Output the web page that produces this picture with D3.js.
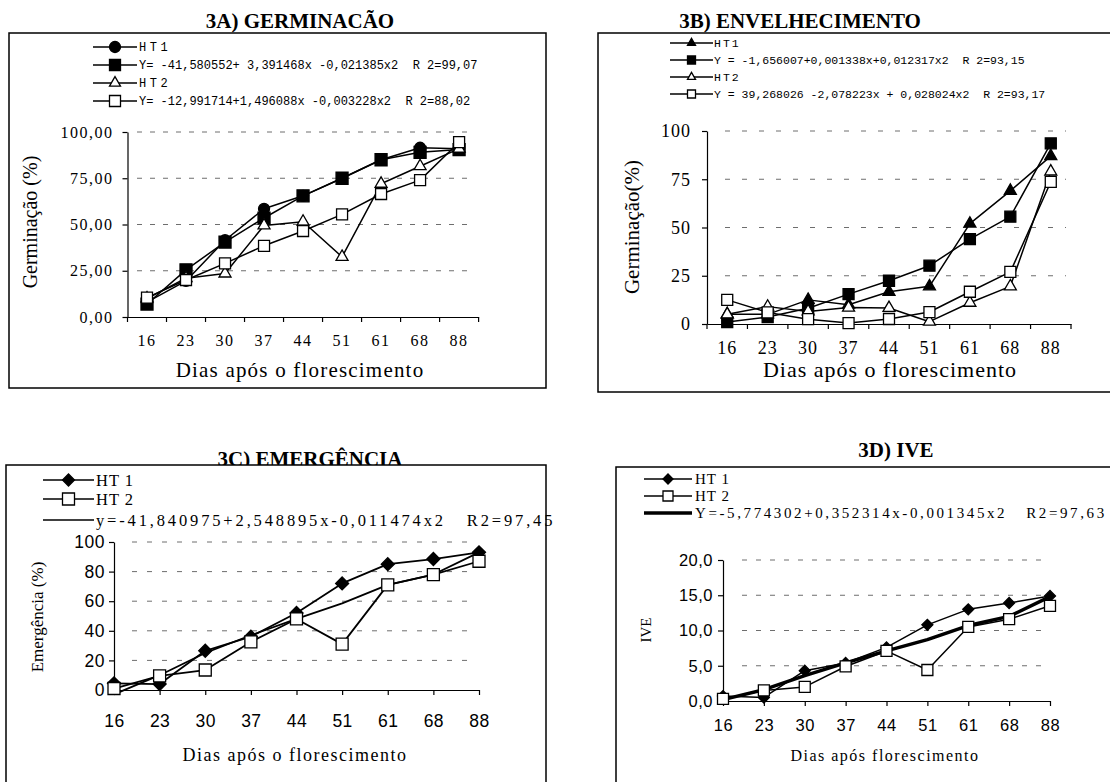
<!DOCTYPE html>
<html lang="pt">
<head>
<meta charset="UTF-8">
<title>Germinação, envelhecimento, emergência e IVE</title>
<script src="https://cdn.jsdelivr.net/npm/d3@7"></script>
<style>
    body { margin: 0; background: #fff; }
    svg text { fill: #000; white-space: pre; }
</style>
</head>
<body>
<script>
// dias após o florescimento (categorias do eixo x)
const dias = ["16", "23", "30", "37", "44", "51", "61", "68", "88"];

// 3A) Germinação
const germHT1 = [8, 19.5, 41.5, 58.5, 65.5, 75, 85, 91.5, 91];
const germHT1Ajuste = [7, 25.5, 40.5, 53.5, 65.5, 75, 85, 89, 90.5];
const germHT2 = [10, 21, 23.5, 49.5, 51.5, 32.5, 72, 81.5, 91];
const germHT2Ajuste = [10.5, 20, 29, 38.5, 46.5, 55.5, 66.5, 74, 94.5];
const germTicks = [0, 25, 50, 75, 100];
const germLegenda = ["HT1", "Y= -41,580552+ 3,391468x -0,021385x2  R 2=99,07",
                     "HT2", "Y= -12,991714+1,496088x -0,003228x2  R 2=88,02"];

// 3B) Envelhecimento
const envHT1 = [5, 5, 12.5, 10, 16.7, 19.5, 52, 69, 87];
const envHT1Ajuste = [1, 3.6, 8.2, 15.5, 22.4, 30.2, 44, 55.6, 93.6];
const envHT2 = [5, 9, 6.5, 8.5, 8.3, 1.2, 11, 19.5, 79];
const envHT2Ajuste = [12.5, 6, 2.5, 0.5, 2.6, 6.2, 16.7, 27, 73.6];
const envTicks = [0, 25, 50, 75, 100];
const envLegenda = ["HT1", "Y = -1,656007+0,001338x+0,012317x2  R 2=93,15",
                    "HT2", "Y = 39,268026 -2,078223x + 0,028024x2  R 2=93,17"];

// 3C) Emergência
const emergHT1 = [4.5, 4, 26.5, 36, 52, 72, 85, 88.5, 93];
const emergHT2 = [1, 9.5, 13.5, 32.5, 48, 31, 71, 78, 87];
const emergAjuste = [-3, 10, 25, 37, 48, 58.5, 71, 78, 93];
const emergTicks = [0, 20, 40, 60, 80, 100];
const emergLegenda = ["HT 1", "HT 2", "y=-41,840975+2,548895x-0,011474x2   R2=97,45"];

// 3D) IVE
const iveHT1 = [0.7, 0.5, 4.3, 5.4, 7.6, 10.8, 13, 13.9, 14.9];
const iveHT2 = [0.3, 1.5, 2, 4.9, 7.1, 4.4, 10.5, 11.6, 13.5];
const iveAjuste = [0.2, 1.6, 3.6, 5.4, 7.1, 8.7, 10.7, 12, 14.8];
const iveTicks = [0, 5, 10, 15, 20];
const iveLegenda = ["HT 1", "HT 2", "Y=-5,774302+0,352314x-0,001345x2   R2=97,63"];

const FONTS = {
    serif: "'Liberation Serif', 'Times New Roman', serif",
    sans: "'Liberation Sans', Arial, sans-serif",
    mono: "'Liberation Mono', 'Courier New', monospace"
};

const ptBR = d3.formatLocale({ decimal: ",", thousands: ".", grouping: [3], currency: ["R$", ""] });

const svg = d3.select("body").append("svg")
    .attr("width", 1110)
    .attr("height", 782);

// desenha um marcador (w = largura em px)
function marker(sel, type, w, fill) {
    if (!type) return sel;
    let sym = d3.symbolSquare, area = w * w, rot = 0;
    if (type === "circle") { sym = d3.symbolCircle; area = Math.PI * w * w / 4; }
    if (type === "triangle") { sym = d3.symbolTriangle; area = w * w * Math.sqrt(3) / 4; }
    if (type === "diamond") { area = w * w / 2; rot = 45; }
    return sel.append("path")
        .attr("d", d3.symbol().type(sym).size(area)())
        .attr("transform", rot ? `rotate(${rot})` : null)
        .attr("fill", fill)
        .attr("stroke", "#000")
        .attr("stroke-width", 1.3);
}

function drawPanel(p) {
    const g = svg.append("g");

    g.append("text")
        .attr("font-family", FONTS.serif)
        .attr("x", p.titleX).attr("y", p.titleY)
        .attr("text-anchor", "middle")
        .attr("font-size", 21).attr("font-weight", "bold")
        .text(p.title);

    g.append("rect")
        .attr("x", p.frame[0]).attr("y", p.frame[1])
        .attr("width", p.frame[2]).attr("height", p.frame[3])
        .attr("fill", "#fff").attr("stroke", "#000").attr("stroke-width", 1.5);

    const x = p.point
        ? d3.scalePoint().domain(dias).range([p.x0, p.x1])
        : d3.scaleBand().domain(dias).range([p.x0, p.x1]);
    const off = p.point ? 0 : x.bandwidth() / 2;
    const y = d3.scaleLinear().domain([p.yTicks[0], p.yTicks[p.yTicks.length - 1]]).range([p.y0, p.y1]);

    // grade tracejada
    g.append("g").selectAll("line")
        .data(p.yTicks.slice(1))
        .join("line")
        .attr("x1", p.gridX[0]).attr("x2", p.gridX[1])
        .attr("y1", d => y(d)).attr("y2", d => y(d))
        .attr("stroke", "#6e6e6e").attr("stroke-width", 1)
        .attr("stroke-dasharray", p.dash);

    // eixo y
    const ay = g.append("g")
        .attr("transform", `translate(${p.x0},0)`)
        .call(d3.axisLeft(y).tickValues(p.yTicks).tickSize(5).tickSizeOuter(0).tickPadding(p.yPad)
            .tickFormat(p.fmt));
    ay.attr("font-family", FONTS[p.tickFont]).attr("font-size", p.yTickSize);
    ay.select(".domain").attr("stroke", "#000").attr("stroke-width", 1.2);
    ay.selectAll(".tick line").attr("stroke", "#000").attr("stroke-width", 1.2);
    ay.selectAll("text").attr("letter-spacing", p.tickSpacing);

    // eixo x
    const ax = g.append("g")
        .attr("transform", `translate(0,${p.y0})`)
        .call(d3.axisBottom(x).tickSize(p.point ? 5 : 0).tickSizeOuter(0).tickPadding(p.xPad));
    ax.attr("font-family", FONTS[p.tickFont]).attr("font-size", p.xTickSize);
    ax.select(".domain").attr("stroke", "#000").attr("stroke-width", 1.2);
    ax.selectAll(".tick line").attr("stroke", "#000").attr("stroke-width", 1.2);
    ax.selectAll("text").attr("letter-spacing", p.tickSpacing);
    if (!p.point) {
        ax.selectAll("line.div")
            .data(dias.map(d => x(d)).concat([p.x1]))
            .join("line")
            .attr("class", "div")
            .attr("x1", d => d).attr("x2", d => d)
            .attr("y1", 0).attr("y2", 5)
            .attr("stroke", "#000").attr("stroke-width", 1.2);
    }

    // títulos dos eixos
    g.append("text")
        .attr("font-family", FONTS.serif)
        .attr("transform", `translate(${p.yTitle[0]},${p.yTitle[1]}) rotate(-90)`)
        .attr("text-anchor", "middle")
        .attr("dy", "0.35em")
        .attr("font-size", p.yTitle[2])
        .text(p.yLabel);
    g.append("text")
        .attr("font-family", FONTS.serif)
        .attr("x", p.xTitle[0]).attr("y", p.xTitle[1])
        .attr("text-anchor", "middle")
        .attr("font-size", p.xTitle[2])
        .attr("letter-spacing", p.xTitle[3])
        .text(p.xLabel);

    // séries
    const line = d3.line().x((d, i) => x(dias[i]) + off).y(d => y(d));
    p.series.forEach(s => {
        g.append("path")
            .datum(s.values)
            .attr("d", line)
            .attr("fill", "none")
            .attr("stroke", "#000")
            .attr("stroke-width", s.lw)
            .attr("stroke-linejoin", "round");
        if (s.marker) {
            g.append("g").selectAll("g")
                .data(s.values)
                .join("g")
                .attr("transform", (d, i) => `translate(${x(dias[i]) + off},${y(d)})`)
                .each(function () { marker(d3.select(this), s.marker, s.w, s.fill); });
        }
    });

    // legenda
    const L = p.legend;
    p.series.forEach((s, i) => {
        const row = s.legendOrder != null ? s.legendOrder : i;
        const ly = L.rows[row];
        const lg = g.append("g");
        lg.append("line")
            .attr("x1", L.x0).attr("x2", L.x1)
            .attr("y1", ly).attr("y2", ly)
            .attr("stroke", "#000").attr("stroke-width", s.legendLw || 1.6);
        if (s.marker) {
            marker(lg.append("g").attr("transform", `translate(${(L.x0 + L.x1) / 2},${ly})`),
                s.marker, L.w, s.fill);
        }
        lg.append("text")
            .attr("font-family", FONTS[L.font])
            .attr("x", L.tx).attr("y", ly + L.dy)
            .attr("font-size", L.size)
            .attr("letter-spacing", s.label.length < 6 ? L.shortSpacing : L.spacing)
            .text(s.label);
    });
}

drawPanel({
    title: "3A) GERMINACÃO", titleX: 300, titleY: 28,
    frame: [9, 33, 537, 355],
    x0: 127.5, x1: 478.6, y0: 317, y1: 132, point: false,
    yTicks: germTicks, fmt: ptBR.format(".2f"), gridX: [137, 467], dash: "5,8",
    tickFont: "serif", yTickSize: 16, xTickSize: 16, tickSpacing: 1.5, yPad: 9, xPad: 18,
    yLabel: "Germinação (%)", yTitle: [30, 222, 20],
    xLabel: "Dias após o florescimento", xTitle: [300, 377, 21, 1.2],
    series: [
        { label: germLegenda[0], values: germHT1, marker: "circle", w: 11, fill: "#000", lw: 1.5 },
        { label: germLegenda[1], values: germHT1Ajuste, marker: "square", w: 12, fill: "#000", lw: 1.5 },
        { label: germLegenda[2], values: germHT2, marker: "triangle", w: 12, fill: "#fff", lw: 1.5 },
        { label: germLegenda[3], values: germHT2Ajuste, marker: "square", w: 11, fill: "#fff", lw: 1.5 }
    ],
    legend: { rows: [47, 65, 83, 101], x0: 93, x1: 137, tx: 139, dy: 4, font: "mono", size: 12,
              w: 11, spacing: 0, shortSpacing: 3.5 }
});

drawPanel({
    title: "3B) ENVELHECIMENTO", titleX: 800, titleY: 28,
    frame: [598, 33, 520, 359],
    x0: 707, x1: 1071, y0: 324, y1: 131, point: false,
    yTicks: envTicks, fmt: d3.format("d"), gridX: [725, 1066], dash: "5,12",
    tickFont: "serif", yTickSize: 18, xTickSize: 18, tickSpacing: 1, yPad: 11, xPad: 17,
    yLabel: "Germinação(%)", yTitle: [632, 227, 21],
    xLabel: "Dias após o florescimento", xTitle: [890, 377, 22, 1],
    series: [
        { label: envLegenda[0], values: envHT1, marker: "triangle", w: 12, fill: "#000", lw: 1.5 },
        { label: envLegenda[1], values: envHT1Ajuste, marker: "square", w: 11, fill: "#000", lw: 1.5 },
        { label: envLegenda[2], values: envHT2, marker: "triangle", w: 12, fill: "#fff", lw: 1.5 },
        { label: envLegenda[3], values: envHT2Ajuste, marker: "square", w: 11, fill: "#fff", lw: 1.5 }
    ],
    legend: { rows: [43, 60, 77, 94], x0: 670, x1: 713, tx: 714, dy: 4, font: "mono", size: 11.5,
              w: 8, spacing: 0, shortSpacing: 2 }
});

drawPanel({
    title: "3C) EMERGÊNCIA", titleX: 310, titleY: 466,
    frame: [6, 465, 540, 330],
    x0: 114, x1: 479, y0: 690, y1: 542, point: true,
    yTicks: emergTicks, fmt: d3.format("d"), gridX: [132, 476], dash: "5,10",
    tickFont: "sans", yTickSize: 17.5, xTickSize: 17.5, tickSpacing: 0.5, yPad: 4, xPad: 20,
    yLabel: "Emergência (%)", yTitle: [37, 617, 17],
    xLabel: "Dias após o florescimento", xTitle: [295, 761, 18, 1.5],
    series: [
        { label: emergLegenda[2], values: emergAjuste, marker: null, lw: 1.8, legendOrder: 2 },
        { label: emergLegenda[0], values: emergHT1, marker: "diamond", w: 13, fill: "#000", lw: 1.8, legendOrder: 0 },
        { label: emergLegenda[1], values: emergHT2, marker: "square", w: 12, fill: "#fff", lw: 1.8, legendOrder: 1 }
    ],
    legend: { rows: [480, 499, 520], x0: 43, x1: 94, tx: 96, dy: 6, font: "serif", size: 16.5,
              w: 12, spacing: 2.85, shortSpacing: 1 }
});

drawPanel({
    title: "3D) IVE", titleX: 896, titleY: 457,
    frame: [616, 467, 500, 330],
    x0: 723, x1: 1050, y0: 701, y1: 560, point: true,
    yTicks: iveTicks, fmt: ptBR.format(".1f"), gridX: [742, 1042], dash: "5,9",
    tickFont: "sans", yTickSize: 16.5, xTickSize: 16.5, tickSpacing: 0.5, yPad: 5, xPad: 13,
    yLabel: "IVE", yTitle: [646, 630, 15],
    xLabel: "Dias após florescimento", xTitle: [885, 761, 16, 1.5],
    series: [
        { label: iveLegenda[2], values: iveAjuste, marker: null, lw: 3.5, legendLw: 3.5, legendOrder: 2 },
        { label: iveLegenda[0], values: iveHT1, marker: "diamond", w: 11, fill: "#000", lw: 1.5, legendOrder: 0 },
        { label: iveLegenda[1], values: iveHT2, marker: "square", w: 11, fill: "#fff", lw: 1.5, legendOrder: 1 }
    ],
    legend: { rows: [479, 496, 513], x0: 644, x1: 692, tx: 695, dy: 5, font: "serif", size: 15,
              w: 10, spacing: 2.6, shortSpacing: 1 }
});
</script>
</body>
</html>
